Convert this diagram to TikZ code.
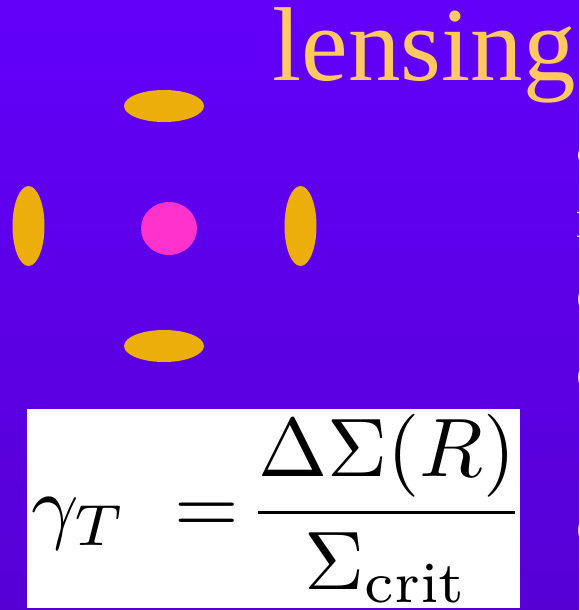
\documentclass[tikz,border=0pt]{standalone}
\usepackage{fontspec}
\newfontfamily\slidefont{Liberation Serif}
\usepackage{graphicx}
\usepackage{tikz}
\usetikzlibrary{shapes.geometric}
\usepackage{xcolor}
\definecolor{slidetop}{RGB}{98,0,250}
\definecolor{slidemid}{RGB}{96,0,245}
\definecolor{slidebottom}{RGB}{86,0,212}
\definecolor{titleorange}{RGB}{255,200,96}
\definecolor{imgorange}{RGB}{236,174,10}
\definecolor{lenspink}{RGB}{255,51,204}
\definecolor{bodywhite}{RGB}{236,228,255}

\begin{document}
\begin{tikzpicture}[
  x=1pt, y=-1pt,
  flat/.style={ellipse, fill=imgorange, inner sep=0pt, minimum width=80pt, minimum height=32pt},
  tall/.style={ellipse, fill=imgorange, inner sep=0pt, minimum width=32pt, minimum height=80pt},
  body/.style={anchor=base west, inner sep=0pt, text=bodywhite, font=\slidefont\fontsize{55}{55}\selectfont}
]
\useasboundingbox (0,0) rectangle (579,610);
\shade[top color=slidetop, middle color=slidemid, bottom color=slidebottom] (0,0) rectangle (579,610);

\node[anchor=base west, inner sep=0pt, text=titleorange, font=\slidefont\fontsize{105}{105}\selectfont] (title) at (272,80) {lensing};

% lensed images round the lens
\node[flat] (imgtop) at (164,106) {};
\node[flat] (imgbottom) at (164,346) {};
\node[tall] (imgleft) at (28.5,226) {};
\node[tall] (imgright) at (300.5,226) {};
\node[ellipse, fill=lenspink, inner sep=0pt, minimum width=56pt, minimum height=53pt] (lens) at (169,228.5) {};

% body text, cut at the right edge
\node[body] (line1) at (576,162) {a};
\node[body] (line2) at (576,237) {r};
\node[body] (line3) at (576,312) {c};
\node[body] (line4) at (576,390) {c};
\node[body] (line5) at (576,543) {c};

\node[rectangle, fill=white, inner sep=0pt, minimum width=493pt, minimum height=199pt] (formulabox) at (273.5,508.5) {};
\node[anchor=base west, inner sep=0pt] (formula) at (31,533)
  {\scalebox{8.3}{$\displaystyle \gamma_T \mkern5.5mu = \mkern-3.1mu \frac{\Delta\Sigma(R)}{\Sigma_{\mathrm{crit}}}$}};
\end{tikzpicture}
\end{document}
